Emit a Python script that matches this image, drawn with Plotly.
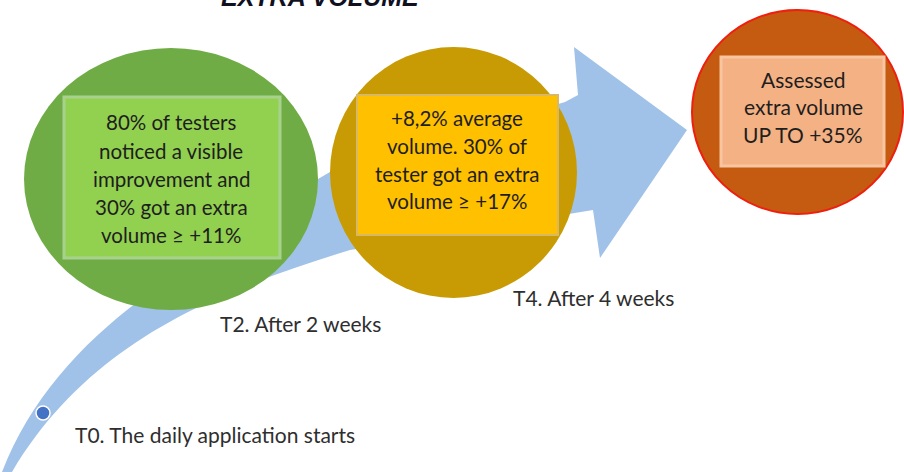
import plotly.graph_objects as go

# ---- content ----
title_text = "EXTRA VOLUME"
stage_labels = ["T0. The daily application starts", "T2. After 2 weeks", "T4. After 4 weeks"]
green_lines = ["80% of testers", "noticed a visible", "improvement and", "30% got an extra", "volume ≥ +11%"]
gold_lines = ["+8,2% average", "volume. 30% of", "tester got an extra", "volume ≥ +17%"]
orange_lines = ["Assessed", "extra volume", "UP TO +35%"]

W, H = 904, 472
FONT = "Lato, Calibri, sans-serif"

fig = go.Figure()
fig.add_trace(go.Scatter(x=[0, W], y=[0, H], mode="markers", marker=dict(opacity=0), hoverinfo="skip", showlegend=False))

shapes = []
# blue swoosh arrow
swoosh = ("M 2 472 "
          "C 30 400, 80 345, 140 300 "
          "L 318 179 L 330 172 "
          "L 565 102 L 578 95 "
          "L 574 47 L 687 130 L 600 258 L 593 210 "
          "L 350 250 "
          "C 220 290, 90 340, 12 472 Z")
shapes.append(dict(type="path", path=swoosh, fillcolor="#A0C2E8", line=dict(width=0), layer="below"))

# circles
shapes.append(dict(type="circle", x0=24, x1=318, y0=48, y1=310, fillcolor="#6FAC46", line=dict(width=0)))
shapes.append(dict(type="circle", x0=330, x1=577, y0=47, y1=298, fillcolor="#C89B05", line=dict(width=0)))
shapes.append(dict(type="circle", x0=692, x1=903, y0=10, y1=214, fillcolor="#C55A11", line=dict(width=2, color="#F01E0E")))

# inner boxes
shapes.append(dict(type="rect", x0=64, x1=280, y0=97, y1=258, fillcolor="#92D050", line=dict(width=3, color="#A9D18E")))
shapes.append(dict(type="rect", x0=357, x1=558, y0=95, y1=235, fillcolor="#FFC000", line=dict(width=2, color="#D8B860")))
shapes.append(dict(type="rect", x0=721, x1=884, y0=57, y1=166, fillcolor="#F4B183", line=dict(width=3, color="#F7C6A0")))

# blue dot
shapes.append(dict(type="circle", x0=36, x1=50, y0=406, y1=420, fillcolor="#4472C4", line=dict(width=1.5, color="white")))

annotations = []
def add_lines(lines, cx, ys, size):
    for t, y in zip(lines, ys):
        annotations.append(dict(x=cx, y=y, text=t, showarrow=False, xanchor="center", yanchor="middle",
                                font=dict(family=FONT, size=size, color="#1E1E1E")))

add_lines(green_lines, 171, [122, 151, 179, 207, 235], 20.5)
add_lines(gold_lines, 457, [118, 146, 174, 201], 20.5)
add_lines(orange_lines, 803, [79, 106, 134], 21)

label_pos = [(73, 434), (218, 323), (511, 297)]
for t, (x, y) in zip(stage_labels, label_pos):
    annotations.append(dict(x=x, y=y, text=t, showarrow=False, xanchor="left", yanchor="middle",
                            font=dict(family=FONT, size=21, color="#2E2E2E")))

annotations.append(dict(x=320, y=13, text="<b><i>" + title_text + "</i></b>", showarrow=False,
                        xanchor="center", yanchor="bottom",
                        font=dict(family="Liberation Sans, Arial, sans-serif", size=25, color="#10101E")))

fig.update_layout(
    width=W, height=H,
    margin=dict(l=0, r=0, t=0, b=0),
    paper_bgcolor="white", plot_bgcolor="white",
    xaxis=dict(range=[0, W], visible=False, fixedrange=True),
    yaxis=dict(range=[H, 0], visible=False, fixedrange=True),
    shapes=shapes, annotations=annotations, showlegend=False,
)
fig.write_html("out.html", config={"displayModeBar": False},
               post_script="document.body.style.margin='0';document.body.style.overflow='hidden';")
